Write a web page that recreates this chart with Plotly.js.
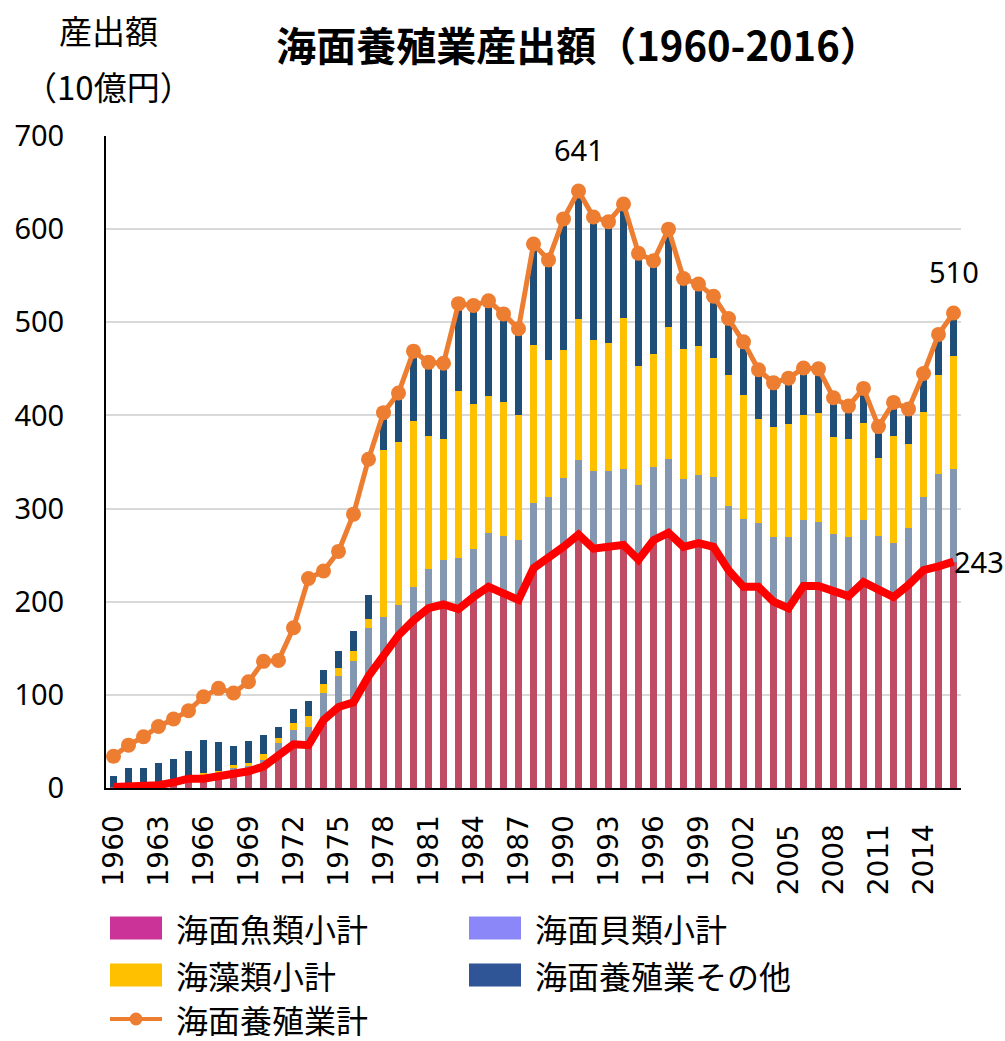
<!DOCTYPE html>
<html><head><meta charset="utf-8">
<script src="https://cdn.plot.ly/plotly-3.0.1.min.js"></script>
<style>body{margin:0;background:#fff}#chart{width:1005px;height:1041px}</style>
</head><body><div id="chart"></div>
<script>
const years = ["1960","1961","1962","1963","1964","1965","1966","1967","1968","1969",
"1970","1971","1972","1973","1974","1975","1976","1977","1978","1979",
"1980","1981","1982","1983","1984","1985","1986","1987","1988","1989",
"1990","1991","1992","1993","1994","1995","1996","1997","1998","1999",
"2000","2001","2002","2003","2004","2005","2006","2007","2008","2009",
"2010","2011","2012","2013","2014","2015","2016"];

// 海面魚類小計
const fish = [1,1,1,3,6,10,10,12,16,18,
23,35,47,46,73,87,92,120,143,164,
180,193,197,192,205,216,209,202,236,247,
259,272,257,259,261,245,266,274,259,263,
259,234,216,216,200,193,217,217,212,206,
221,214,205,218,234,238,243];
// 海面貝類小計
const shellfish = [0,0,0,0,0,0,4,4,6,6,
7,13,15,20,29,33,44,52,41,32,
36,42,48,55,52,58,62,64,70,65,
74,80,83,81,81,80,79,79,73,73,
75,69,73,68,69,76,71,69,61,64,
67,57,58,61,78,99,99];
// 海藻類小計
const seaweed = [0,0,0,0,0,0,2,2,3,3,
7,6,8,11,10,9,11,9,179,175,
178,143,130,179,155,147,143,134,170,147,
137,151,141,138,163,128,121,142,139,139,
128,140,133,112,119,122,112,117,104,105,
104,83,115,90,92,106,122];
// 海面養殖業その他
const others = [12,20,21,24,25,30,36,31,20,23,
20,12,15,16,15,18,22,26,39,52,
75,79,81,93,105,102,95,93,108,109,
141,138,132,129,122,122,101,105,75,66,
66,60,58,52,47,50,51,47,42,36,
37,35,36,39,40,44,46];
// 海面養殖業計
const total = [34,46,55,66,74,83,98,107,102,114,
136,137,172,225,233,254,294,353,403,424,
469,457,456,520,518,523,509,493,584,567,
611,641,613,608,627,574,566,600,547,541,
528,504,479,449,435,440,451,450,419,410,
429,388,414,407,445,487,510];

const tickYears = ["1960","1963","1966","1969","1972","1975","1978","1981","1984","1987",
"1990","1993","1996","1999","2002","2005","2008","2011","2014"];
const tickLabels = ["1960","1963","1966","1969","1972","1975","1978","1981","1984","1987",
"1990","1993","1996","1999","2002","2005\u00a0","2008\u00a0","2011\u00a0","2014\u00a0"];

const seriesNames = ["海面魚類小計","海面貝類小計","海藻類小計","海面養殖業その他","海面養殖業計"];
const barColors = ["#C04B64","#8497B0","#FFC000","#1F4E79"];
const legendColors = ["#CC3399","#8C87F9","#FFC000","#2F5597","#ED7D31"];

const title = "海面養殖業産出額（1960-2016）";
const yTitle1 = "産出額";
const yTitle2 = "（10億円）";

const JP = '"Noto Sans CJK JP", "Noto Sans", sans-serif';
const NUM = '"Noto Sans", "DejaVu Sans", sans-serif';

const barSeries = [fish, shellfish, seaweed, others];
const traces = barSeries.map((vals, i) => ({
  type: 'bar', x: years, y: vals, name: seriesNames[i],
  marker: {color: barColors[i], line: {width: 0}},
  showlegend: false, hoverinfo: 'skip'
}));
traces.push({
  type: 'scatter', mode: 'lines', x: years, y: fish,
  line: {color: '#FF0000', width: 8}, showlegend: false, hoverinfo: 'skip'
});
traces.push({
  type: 'scatter', mode: 'lines+markers', x: years, y: total, name: seriesNames[4],
  line: {color: '#ED7D31', width: 5}, marker: {color: '#ED7D31', size: 15},
  showlegend: false, hoverinfo: 'skip'
});

// plot area in pixels
const L = 106, R = 961, T = 136, B = 788;
const px = p => (p - L) / (R - L);
const py = p => (B - p) / (B - T);

const shapes = [];
const annotations = [];

// legend (custom, to match swatch sizes)
const legendItems = [
  {i: 0, col: 0, row: 0}, {i: 1, col: 1, row: 0},
  {i: 2, col: 0, row: 1}, {i: 3, col: 1, row: 1},
  {i: 4, col: 0, row: 2}
];
const colX = [[110, 174], [469, 533]];
const rowY = [928, 975, 1019];
legendItems.forEach(it => {
  const [sx, tx] = colX[it.col];
  const cy = rowY[it.row];
  if (it.i < 4) {
    shapes.push({type: 'rect', xref: 'paper', yref: 'paper',
      x0: px(sx), x1: px(sx + 52), y0: py(cy + 11.5), y1: py(cy - 11.5),
      fillcolor: legendColors[it.i], line: {width: 0}});
  } else {
    shapes.push({type: 'line', xref: 'paper', yref: 'paper',
      x0: px(sx), x1: px(sx + 52), y0: py(cy), y1: py(cy),
      line: {color: legendColors[it.i], width: 4}});
    shapes.push({type: 'circle', xref: 'paper', yref: 'paper',
      x0: px(sx + 26 - 6.5), x1: px(sx + 26 + 6.5), y0: py(cy + 6.5), y1: py(cy - 6.5),
      fillcolor: legendColors[it.i], line: {width: 0}});
  }
  annotations.push({xref: 'paper', yref: 'paper', x: px(tx), y: py(cy),
    xanchor: 'left', yanchor: 'middle', showarrow: false, text: seriesNames[it.i],
    font: {family: JP, size: 32, color: '#000'}});
});

// y-axis title
annotations.push({xref: 'paper', yref: 'paper', x: px(108), y: py(30), xanchor: 'center', yanchor: 'middle',
  showarrow: false, text: yTitle1, font: {family: JP, size: 33, color: '#000'}});
annotations.push({xref: 'paper', yref: 'paper', x: px(108), y: py(86), xanchor: 'center', yanchor: 'middle',
  showarrow: false, text: yTitle2, font: {family: JP, size: 33, color: '#000'}});

// data labels (category axis: positions given as category index)
const maxIdx = total.indexOf(Math.max(...total));
const lastIdx = years.length - 1;
annotations.push({x: maxIdx, y: total[maxIdx], text: String(total[maxIdx]), showarrow: false,
  yanchor: 'bottom', yshift: 20, font: {family: NUM, size: 29, color: '#000'}});
annotations.push({x: lastIdx, y: total[lastIdx], text: String(total[lastIdx]), showarrow: false,
  yanchor: 'bottom', yshift: 20, font: {family: NUM, size: 29, color: '#000'}});
annotations.push({x: lastIdx, y: fish[lastIdx], text: String(fish[lastIdx]), showarrow: false,
  xanchor: 'left', yanchor: 'middle', xshift: -2, font: {family: NUM, size: 29, color: '#000'}});

const layout = {
  width: 1005, height: 1041,
  margin: {l: L, r: 1005 - R, t: T, b: 1041 - B},
  paper_bgcolor: '#fff', plot_bgcolor: '#fff',
  barmode: 'stack', bargap: 0.55,
  showlegend: false,
  title: {text: title, x: 578 / 1005, xanchor: 'center', y: 1 - 47 / 1041, yanchor: 'middle',
    font: {family: JP, size: 40, color: '#000', weight: 'bold'}},
  xaxis: {type: 'category', categoryorder: 'array', categoryarray: years,
    range: [-0.5, years.length - 0.5], autorange: false,
    tickmode: 'array', tickvals: tickYears, ticktext: tickLabels, tickangle: -90,
    showline: true, linecolor: '#000', linewidth: 2, showgrid: false, ticks: '',
    ticklabelstandoff: 14,
    tickfont: {family: '"DejaVu Sans", sans-serif', size: 28, color: '#000'}},
  yaxis: {range: [0, 700], autorange: false, dtick: 100, tick0: 0, showline: true, linecolor: '#000', linewidth: 2,
    gridcolor: '#D9D9D9', gridwidth: 2, zeroline: false, ticks: '', ticklabelstandoff: 34,
    tickfont: {family: NUM, size: 29, color: '#000'}},
  shapes: shapes, annotations: annotations
};

Plotly.newPlot('chart', traces, layout, {displayModeBar: false, staticPlot: true});
</script></body></html>
